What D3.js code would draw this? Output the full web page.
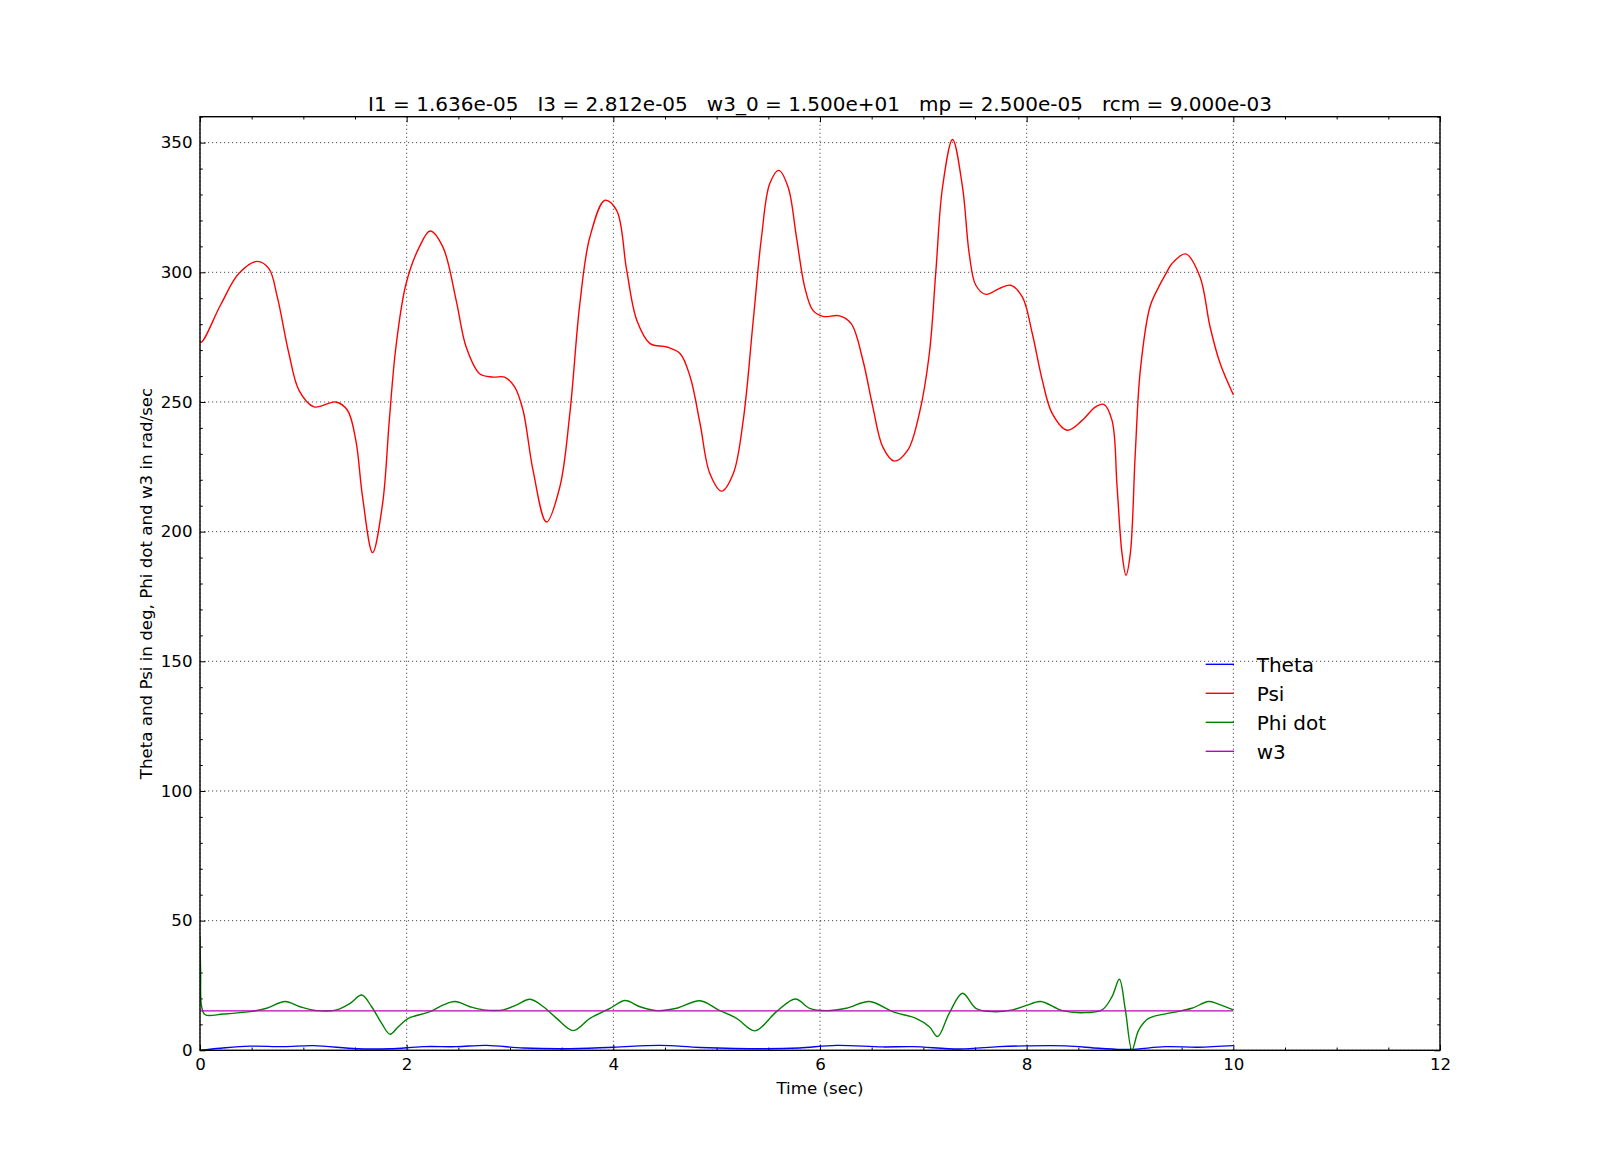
<!DOCTYPE html>
<html>
<head>
<meta charset="utf-8">
<script src="https://cdn.jsdelivr.net/npm/d3@7"></script>
<style>
  html, body { margin: 0; padding: 0; background: #fff; }
  svg { display: block; font-family: "DejaVu Sans", sans-serif; }
</style>
</head>
<body>
<svg id="chart" width="1600" height="1167"></svg>
<script>
// ---------------- data ----------------
const titleText = "I1 = 1.636e-05   I3 = 2.812e-05   w3_0 = 1.500e+01   mp = 2.500e-05   rcm = 9.000e-03";
const xLabel = "Time (sec)";
const yLabel = "Theta and Psi in deg, Phi dot and w3 in rad/sec";
const xTicks = [0, 2, 4, 6, 8, 10, 12];
const yTicks = [0, 50, 100, 150, 200, 250, 300, 350];
const seriesNames = ["Theta", "Psi", "Phi dot", "w3"];
const seriesColors = ["#0000ff", "#ff0000", "#008000", "#bf00bf"];

const thetaData = [
  [0, 0], [0.2, 0.8], [0.48, 1.6], [0.81, 1.4], [1.1, 1.8], [1.52, 0.6], [1.84, 0.6],
  [2.16, 1.4], [2.48, 1.4], [2.77, 1.9], [3.13, 0.9], [3.52, 0.6], [4.0, 1.2], [4.45, 1.9],
  [4.84, 1.1], [5.48, 0.6], [5.8, 0.9], [6.16, 1.9], [6.6, 1.3], [6.9, 1.4], [7.35, 0.5],
  [7.73, 1.4], [7.99, 1.7], [8.38, 1.7], [8.7, 0.8], [8.99, 0.3], [9.34, 1.4], [9.66, 1.2],
  [10.0, 1.8]
];

const psiData = [
  [0, 300], [0.006, 273.0], [0.2, 287.5], [0.375, 299.5], [0.553, 304.2], [0.667, 301.4],
  [0.748, 290.5], [0.861, 268.6], [0.958, 254.5], [1.104, 248.1], [1.314, 250.0],
  [1.427, 246.8], [1.508, 235.2], [1.573, 213.4], [1.67, 191.9], [1.767, 210.8],
  [1.832, 242.9], [1.896, 271.2], [1.994, 295.6], [2.123, 309.8], [2.227, 315.9],
  [2.35, 309.8], [2.479, 289.2], [2.576, 271.2], [2.706, 260.9], [2.835, 259.6],
  [2.948, 259.6], [3.045, 255.8], [3.126, 246.8], [3.223, 223.6], [3.353, 203.7],
  [3.482, 217.2], [3.579, 245.5], [3.676, 287.9], [3.773, 313.6], [3.919, 327.8],
  [4.032, 323.9], [4.129, 300.8], [4.227, 281.5], [4.356, 272.5], [4.518, 271.2],
  [4.647, 268.6], [4.744, 259.6], [4.84, 241.5], [4.934, 222.4], [5.048, 215.6],
  [5.161, 222.4], [5.257, 242.9], [5.354, 281.5], [5.434, 313.6], [5.514, 334.2],
  [5.601, 339.3], [5.691, 332.9], [5.772, 313.6], [5.852, 294.3], [5.932, 285.3],
  [6.029, 283.0], [6.19, 283.2], [6.302, 280.2], [6.415, 266.1], [6.511, 248.1],
  [6.608, 232.6], [6.72, 227.2], [6.849, 231.4], [6.961, 245.5], [7.058, 268.6],
  [7.122, 300.8], [7.186, 332.9], [7.283, 351.2], [7.379, 332.9], [7.444, 307.2],
  [7.508, 295.0], [7.605, 291.5], [7.733, 293.7], [7.846, 295.0], [7.958, 290.5],
  [8.055, 276.3], [8.151, 258.4], [8.248, 245.5], [8.392, 239.1], [8.537, 242.9],
  [8.666, 248.1], [8.746, 249.1], [8.826, 242.9], [8.875, 217.2], [8.923, 191.5],
  [8.961, 183.2], [9.003, 191.5], [9.051, 230.1], [9.1, 262.3], [9.194, 286.8],
  [9.277, 294.3], [9.355, 300.0], [9.405, 303.3], [9.539, 307.1], [9.677, 298.3],
  [9.774, 279.1], [9.871, 265.0], [10.0, 252.8]
];

const phiDotData = [
  [0, 44], [0.006, 30], [0.015, 17], [0.05, 13.7], [0.226, 14.0], [0.484, 14.9], [0.645, 16.2],
  [0.823, 18.8], [0.968, 16.8], [1.129, 15.3], [1.323, 15.6], [1.452, 18.1], [1.565, 21.3],
  [1.661, 16.8], [1.758, 10.4], [1.839, 6.2], [1.919, 9.1], [2.016, 12.3], [2.226, 14.9],
  [2.355, 17.5], [2.468, 18.8], [2.613, 16.8], [2.742, 15.6], [2.935, 15.6], [3.065, 17.5],
  [3.194, 19.7], [3.323, 16.8], [3.452, 12.3], [3.613, 7.6], [3.774, 12.3], [3.968, 16.2],
  [4.113, 19.2], [4.258, 16.8], [4.419, 15.3], [4.613, 16.2], [4.839, 19.1], [5.016, 15.6],
  [5.193, 12.3], [5.370, 7.5], [5.579, 14.9], [5.762, 19.8], [5.9, 16.2], [6.061, 15.3],
  [6.254, 16.2], [6.479, 18.8], [6.704, 14.9], [6.929, 12.3], [7.058, 9.1], [7.138, 5.3],
  [7.251, 14.3], [7.379, 22.0], [7.508, 16.2], [7.669, 14.9], [7.862, 15.6], [7.990, 17.2],
  [8.135, 18.8], [8.344, 15.3], [8.537, 14.5], [8.730, 15.6], [8.826, 20.7], [8.897, 27.4],
  [8.955, 15.6], [9.019, 0.1], [9.084, 7.8], [9.18, 12.3], [9.405, 14.5], [9.598, 16.2],
  [9.759, 18.8], [9.849, 17.9], [10.0, 15.6]
];

const w3Data = [[0, 15.2], [10.0, 15.2]];

// ---------------- layout ----------------
const svg = d3.select("#chart");
const L = 200, R = 1440, T = 116.7, B = 1050.3;
const x = d3.scaleLinear().domain([0, 12]).range([L, R]);
const y = d3.scaleLinear().domain([0, 360]).range([B, T]);
const majorLen = 5.56, minorLen = 2.78;
const xMinor = d3.range(0, 12.001, 0.5).filter(v => xTicks.indexOf(v) < 0);
const yMinor = d3.range(0, 360.001, 10).filter(v => yTicks.indexOf(v) < 0);

svg.append("rect").attr("width", 1600).attr("height", 1167).attr("fill", "#fff");

// grid
const grid = svg.append("g").attr("stroke", "#000").attr("stroke-width", 0.7)
  .attr("stroke-dasharray", "1.2,2.8").attr("fill", "none");
xTicks.forEach(v => grid.append("line").attr("x1", x(v)).attr("x2", x(v)).attr("y1", T).attr("y2", B));
yTicks.forEach(v => grid.append("line").attr("x1", L).attr("x2", R).attr("y1", y(v)).attr("y2", y(v)));

// axes
function styleAxis(g) {
  g.select(".domain").remove();
  g.selectAll(".tick line").attr("stroke", "#000").attr("stroke-width", 1);
  g.selectAll(".tick text").attr("font-size", "16.67px").attr("fill", "#000")
    .attr("font-family", "DejaVu Sans, sans-serif");
}
svg.append("g").attr("transform", `translate(0,${B})`)
  .call(d3.axisBottom(x).tickValues(xTicks).tickSize(-majorLen).tickPadding(7.5).tickFormat(d3.format("d")))
  .call(styleAxis);
svg.append("g").attr("transform", `translate(${L},0)`)
  .call(d3.axisLeft(y).tickValues(yTicks).tickSize(-majorLen).tickPadding(7.5).tickFormat(d3.format("d")))
  .call(styleAxis);
svg.append("g").attr("transform", `translate(0,${T})`)
  .call(d3.axisTop(x).tickValues(xTicks).tickSize(-majorLen).tickFormat(""))
  .call(styleAxis);
svg.append("g").attr("transform", `translate(${R},0)`)
  .call(d3.axisRight(y).tickValues(yTicks).tickSize(-majorLen).tickFormat(""))
  .call(styleAxis);
// minor ticks
svg.append("g").attr("transform", `translate(0,${B})`)
  .call(d3.axisBottom(x).tickValues(xMinor).tickSize(-minorLen).tickFormat("")).call(styleAxis);
svg.append("g").attr("transform", `translate(0,${T})`)
  .call(d3.axisTop(x).tickValues(xMinor).tickSize(-minorLen).tickFormat("")).call(styleAxis);
svg.append("g").attr("transform", `translate(${L},0)`)
  .call(d3.axisLeft(y).tickValues(yMinor).tickSize(-minorLen).tickFormat("")).call(styleAxis);
svg.append("g").attr("transform", `translate(${R},0)`)
  .call(d3.axisRight(y).tickValues(yMinor).tickSize(-minorLen).tickFormat("")).call(styleAxis);

// lines
svg.append("clipPath").attr("id", "clip").append("rect")
  .attr("x", L).attr("y", T).attr("width", R - L).attr("height", B - T);
const line = d3.line().x(d => x(d[0])).y(d => y(d[1])).curve(d3.curveCatmullRom.alpha(0.5));
const plotG = svg.append("g").attr("clip-path", "url(#clip)");
[thetaData, psiData, phiDotData, w3Data].forEach((data, i) => {
  plotG.append("path").datum(data).attr("d", line)
    .attr("fill", "none").attr("stroke", seriesColors[i]).attr("stroke-width", 1.39)
    .attr("stroke-linejoin", "round");
});

// spines
svg.append("rect").attr("x", L).attr("y", T).attr("width", R - L).attr("height", B - T)
  .attr("fill", "none").attr("stroke", "#000").attr("stroke-width", 1.39);

// title and labels
svg.append("text").attr("x", (L + R) / 2).attr("y", 110.7).attr("text-anchor", "middle")
  .attr("font-size", "20px").style("white-space", "pre").text(titleText);
svg.append("text").attr("x", (L + R) / 2).attr("y", 1094).attr("text-anchor", "middle")
  .attr("font-size", "16.67px").text(xLabel);
svg.append("text").attr("transform", `translate(152,${(T + B) / 2}) rotate(-90)`)
  .attr("text-anchor", "middle").attr("font-size", "16.67px").text(yLabel);

// legend
const leg = svg.append("g");
seriesNames.forEach((name, i) => {
  const ly = 664.3 + i * 29;
  leg.append("line").attr("x1", 1205.7).attr("x2", 1234).attr("y1", ly).attr("y2", ly)
    .attr("stroke", seriesColors[i]).attr("stroke-width", 1.39);
  leg.append("text").attr("x", 1256.7).attr("y", ly + 7.3).attr("font-size", "20px").text(name);
});
</script>
</body>
</html>
